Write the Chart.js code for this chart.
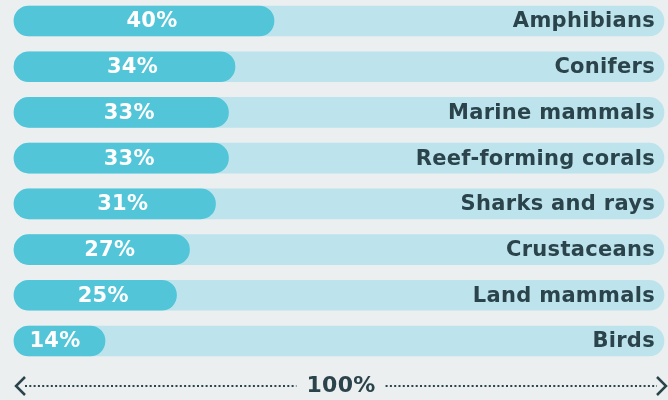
<!DOCTYPE html>
<html>
<head>
<meta charset="utf-8">
<script src="https://cdn.jsdelivr.net/npm/chart.js@4"></script>
<style>
  html, body { margin: 0; padding: 0; background: #ebeff0; }
  canvas { display: block; }
</style>
</head>
<body>
<canvas id="chart" width="668" height="400"></canvas>
<script>
const categories = ['Amphibians', 'Conifers', 'Marine mammals', 'Reef-forming corals', 'Sharks and rays', 'Crustaceans', 'Land mammals', 'Birds'];
const shares = [40, 34, 33, 33, 31, 27, 25, 14];
const fullScale = categories.map(() => 100);
const axisLabel = '100%';

const FONT = '"DejaVu Sans", sans-serif';
const DARK = '#2b434a';

// labels inside the bars + dotted 100% arrow underneath
const labelPlugin = {
    id: 'labels',
    afterDatasetsDraw(chart) {
        const ctx = chart.ctx;
        const x = chart.scales.x;
        const fill = chart.getDatasetMeta(1);
        ctx.save();
        ctx.textBaseline = 'middle';
        ctx.letterSpacing = '0.3px';
        ctx.font = 'bold 21px ' + FONT;
        fill.data.forEach((bar, i) => {
            // slightly right of centre, but kept clear of the bar end
            const cx = Math.min((bar.base + bar.x) / 2 + 8, bar.x - 50);
            ctx.fillStyle = '#ffffff';
            ctx.textAlign = 'center';
            ctx.fillText(shares[i] + '%', cx, bar.y + 1);
            ctx.fillStyle = DARK;
            ctx.textAlign = 'right';
            ctx.fillText(categories[i], x.getPixelForValue(100) - 9, bar.y + 1);
        });

        // arrow line
        const left = x.getPixelForValue(0) + 2;
        const right = x.getPixelForValue(100) + 2;
        const mid = (left + right) / 2;
        const y = 386;
        ctx.font = 'bold 22px ' + FONT;
        ctx.textAlign = 'center';
        ctx.fillStyle = DARK;
        ctx.fillText(axisLabel, mid, y);
        const half = ctx.measureText(axisLabel).width / 2 + 10;
        ctx.letterSpacing = '0px';
        ctx.strokeStyle = DARK;
        ctx.lineWidth = 2;
        ctx.setLineDash([2, 2.3]);
        ctx.beginPath();
        ctx.moveTo(left + 9, y); ctx.lineTo(mid - half, y);
        ctx.moveTo(mid + half, y); ctx.lineTo(right - 9, y);
        ctx.stroke();
        ctx.setLineDash([]);
        ctx.lineWidth = 2.5;
        ctx.beginPath();
        ctx.moveTo(left + 9, y - 9); ctx.lineTo(left, y); ctx.lineTo(left + 9, y + 9);
        ctx.moveTo(right - 9, y - 9); ctx.lineTo(right, y); ctx.lineTo(right - 9, y + 9);
        ctx.stroke();
        ctx.restore();
    }
};

new Chart(document.getElementById('chart').getContext('2d'), {
    type: 'bar',
    data: {
        labels: categories,
        datasets: [{
            data: fullScale,
            backgroundColor: '#bde4ec',
            grouped: false,
            order: 2,
            barThickness: 30,
            borderRadius: 15,
            borderSkipped: false,
            clip: false
        }, {
            data: shares,
            backgroundColor: '#52c5d8',
            grouped: false,
            order: 1,
            barThickness: 30,
            borderRadius: 15,
            borderSkipped: false,
            clip: false
        }]
    },
    options: {
        indexAxis: 'y',
        responsive: false,
        animation: false,
        layout: { padding: { left: 14, right: 4, top: 21, bottom: 59 } },
        plugins: {
            legend: { display: false },
            tooltip: { enabled: false }
        },
        scales: {
            x: { min: 0, max: 100, display: false },
            y: { display: false, offset: false, grid: { offset: false } }
        }
    },
    plugins: [labelPlugin]
});
</script>
</body>
</html>
